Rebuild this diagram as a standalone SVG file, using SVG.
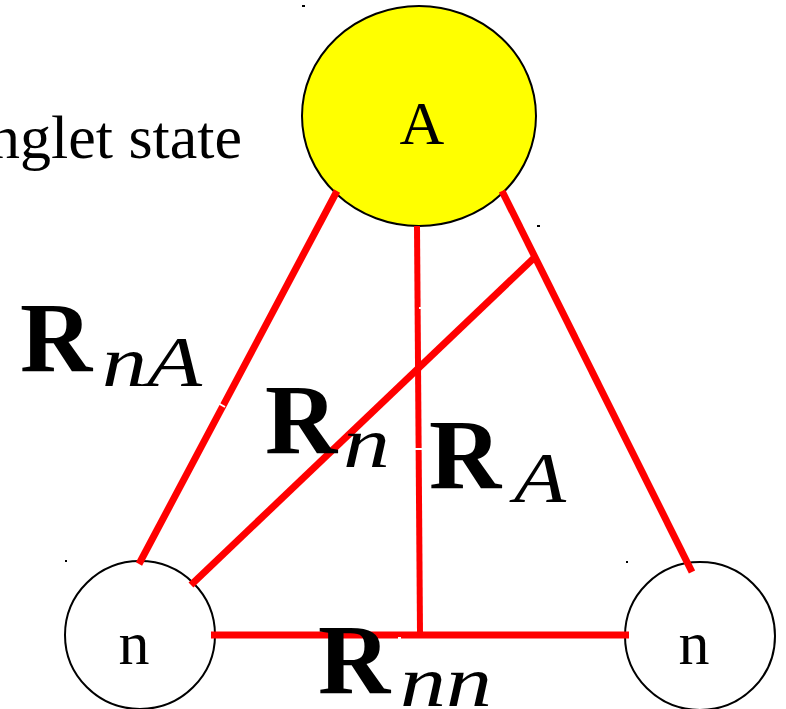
<svg xmlns="http://www.w3.org/2000/svg" width="786" height="709" viewBox="0 0 786 709">
<style>
.node{stroke:#000;stroke-width:2}
.lbl{font-family:"Liberation Serif","Times New Roman",serif;font-size:62px;fill:#000}
.edge{stroke:#ff0000;stroke-width:7;fill:none}
.R{font-family:"Liberation Serif","Times New Roman",serif;font-weight:bold;font-size:100px;fill:#000}
.sub{font-family:"Liberation Serif","Times New Roman",serif;font-style:italic;font-size:72px;fill:#000}
.gap{stroke:#fff;stroke-width:2}
.dot{fill:#000}
</style>
<rect width="786" height="709" fill="#fff"/>
<text class="lbl" x="242" y="158" text-anchor="end">Singlet state</text>
<g id="nodeA">
<ellipse class="node" cx="419" cy="116" rx="117" ry="110" fill="#ffff00"/>
<text class="lbl" x="422" y="144" text-anchor="middle">A</text>
</g>
<g id="nodeN1">
<ellipse class="node" cx="140" cy="635" rx="75" ry="74" fill="#fff"/>
<text class="lbl" x="134" y="664" text-anchor="middle">n</text>
</g>
<g id="nodeN2">
<ellipse class="node" cx="700" cy="636" rx="75" ry="74" fill="#fff"/>
<text class="lbl" x="694" y="664" text-anchor="middle">n</text>
</g>
<g id="connectors">
<line class="edge" x1="337" y1="191" x2="139" y2="564"/>
<line class="edge" x1="502" y1="191" x2="692" y2="572"/>
<line class="edge" x1="417" y1="226" x2="420" y2="633" style="stroke-width:6"/>
<line class="edge" x1="535" y1="257" x2="191" y2="585"/>
<line class="edge" x1="211" y1="635" x2="629" y2="635"/>
<line class="gap" x1="218" y1="403" x2="225" y2="407"/>
<line class="gap" x1="419" y1="308" x2="423" y2="308"/>
<line class="gap" x1="414" y1="449" x2="424" y2="449"/>
<line class="gap" x1="398" y1="638" x2="401" y2="638"/>
</g>
<g id="labels">
<text class="R" x="20" y="371">R</text><text class="sub" x="102" y="386" textLength="100" lengthAdjust="spacingAndGlyphs">nA</text>
<text class="R" x="265" y="453">R</text><text class="sub" x="343" y="467" textLength="47" lengthAdjust="spacingAndGlyphs">n</text>
<text class="R" x="429" y="488">R</text><text class="sub" x="514" y="502" textLength="52" lengthAdjust="spacingAndGlyphs">A</text>
<text class="R" x="318" y="693">R</text><text class="sub" x="400" y="706" textLength="92" lengthAdjust="spacingAndGlyphs">nn</text>
</g>
<rect class="dot" x="302" y="5" width="3" height="2"/>
<rect class="dot" x="537" y="225" width="3" height="2"/>
<rect class="dot" x="65" y="560" width="2" height="2"/>
<rect class="dot" x="626" y="561" width="2" height="2"/>
</svg>
